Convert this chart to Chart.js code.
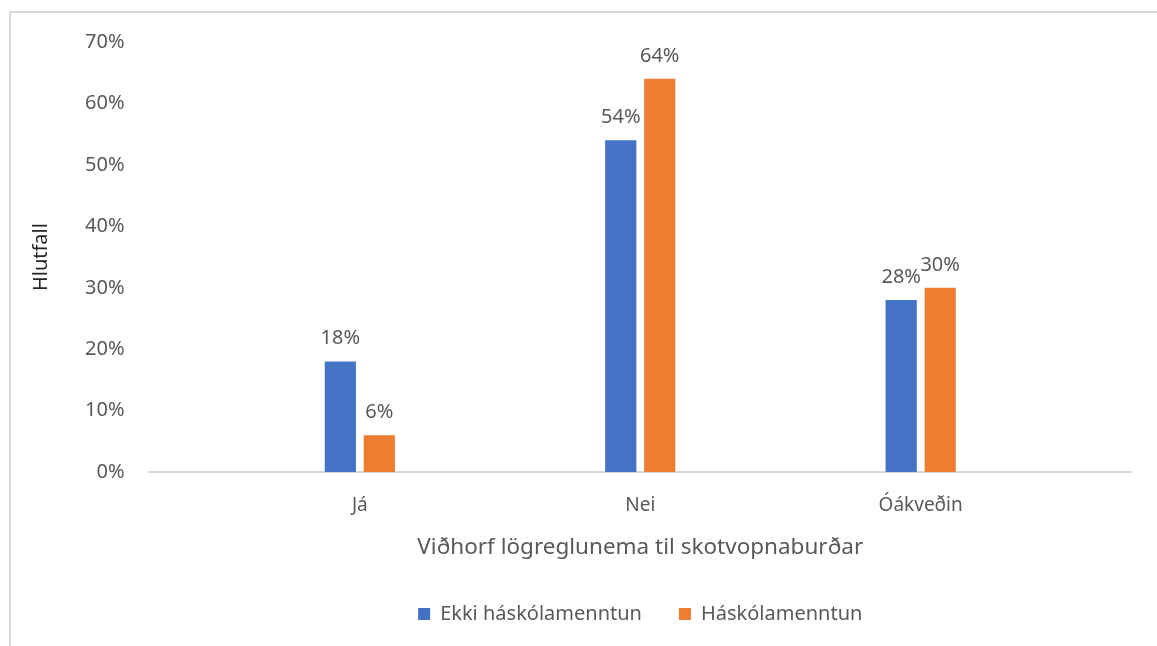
<!DOCTYPE html>
<html>
<head>
<meta charset="utf-8">
<script src="https://cdn.jsdelivr.net/npm/chart.js@4.4.0/dist/chart.umd.min.js"></script>
<style>
    html, body { margin: 0; padding: 0; background: #fff; }
    #wrap { position: relative; width: 1157px; height: 646px; }
    #frame { position: absolute; left: 9px; top: 11px; width: 1160px; height: 640px; border: 2px solid #d9d9d9; box-sizing: border-box; }
    canvas { position: absolute; left: 0; top: 0; }
</style>
</head>
<body>
<div id="wrap">
    <div id="frame"></div>
    <canvas id="chart" width="1157" height="646"></canvas>
</div>
<script>
// 図のデータ
const categories = ['Já', 'Nei', 'Óákveðin'];
const catIndex = [0, 1, 2];
const ekkiHaskola = [18, 54, 28];
const haskola = [6, 64, 30];
const seriesNames = ['Ekki háskólamenntun', 'Háskólamenntun'];

const FONT = "'Noto Sans', sans-serif";
const GREY = '#595959';

// 棒の上にラベルを描くプラグイン
const barLabels = {
    id: 'barLabels',
    afterDatasetsDraw(chart) {
        const ctx = chart.ctx;
        ctx.save();
        ctx.font = '20px ' + FONT;
        ctx.fillStyle = GREY;
        ctx.textAlign = 'center';
        ctx.textBaseline = 'bottom';
        chart.data.datasets.forEach((ds, i) => {
            const meta = chart.getDatasetMeta(i);
            meta.data.forEach((bar, j) => {
                ctx.fillText(ds.data[j] + '%', bar.x, bar.y - 13);
            });
        });
        ctx.restore();
    }
};

const ctx = document.getElementById('chart').getContext('2d');
new Chart(ctx, {
    type: 'bar',
    data: {
        labels: catIndex,
        datasets: [
            {
                label: seriesNames[0],
                data: ekkiHaskola,
                backgroundColor: '#4472C4',
                barPercentage: 0.8,
                categoryPercentage: 0.278
            },
            {
                label: seriesNames[1],
                data: haskola,
                backgroundColor: '#ED7D31',
                barPercentage: 0.8,
                categoryPercentage: 0.278
            }
        ]
    },
    options: {
        responsive: false,
        animation: false,
        layout: {
            padding: { left: 29, right: 26, top: 42, bottom: 12 }
        },
        plugins: {
            legend: {
                position: 'bottom',
                fullSize: false,
                labels: {
                    font: { family: FONT, size: 20 },
                    color: GREY,
                    boxWidth: 12,
                    boxHeight: 12,
                    padding: 37
                }
            },
            tooltip: { enabled: false }
        },
        scales: {
            x: {
                type: 'linear',
                offset: false,
                min: -0.75,
                max: 2.75,
                grid: { display: false },
                border: { color: '#d9d9d9', width: 2 },
                ticks: {
                    stepSize: 1,
                    font: { family: FONT, size: 19 },
                    color: GREY,
                    padding: 14,
                    callback: v => categories[v]
                },
                title: {
                    display: true,
                    text: 'Viðhorf lögreglunema til skotvopnaburðar',
                    font: { family: FONT, size: 22.5 },
                    color: GREY,
                    padding: { top: 3, bottom: 6 }
                }
            },
            y: {
                min: 0,
                max: 70,
                grid: { display: false },
                border: { display: false },
                ticks: {
                    stepSize: 10,
                    font: { family: FONT, size: 20 },
                    color: GREY,
                    padding: 17,
                    callback: v => v + '%'
                },
                title: {
                    display: true,
                    text: 'Hlutfall',
                    font: { family: FONT, size: 20 },
                    color: '#262626',
                    padding: { top: 0, bottom: 15 }
                }
            }
        }
    },
    plugins: [barLabels]
});
</script>
</body>
</html>
